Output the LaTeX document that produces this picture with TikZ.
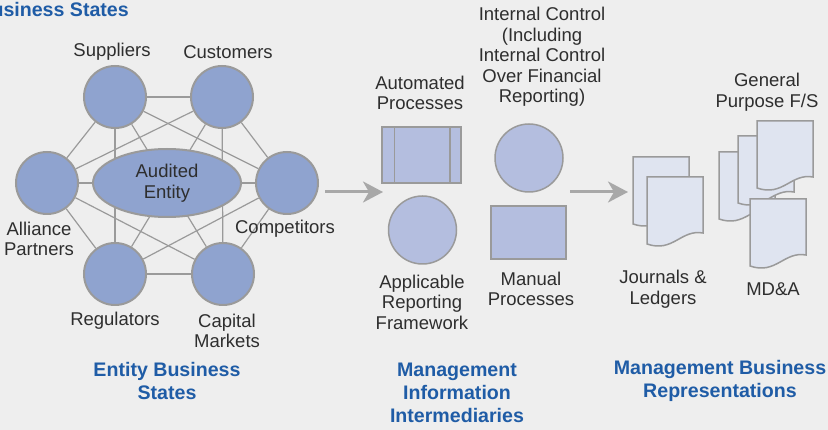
\documentclass[tikz,border=0pt]{standalone}
\usepackage{fontspec}
\setmainfont{Liberation Sans}
\usetikzlibrary{shapes.geometric,arrows.meta}

\definecolor{paneback}{HTML}{EEEEEE}
\definecolor{netblue}{HTML}{8FA3CF}
\definecolor{midblue}{HTML}{B4BEDF}
\definecolor{paperblue}{HTML}{DFE4F0}
\definecolor{titleblue}{HTML}{1F5CA6}
\definecolor{ink}{HTML}{2E2E2E}
\definecolor{rimgray}{HTML}{9A9A9A}
\definecolor{flowgray}{HTML}{A8A8A8}

\begin{document}
\begin{tikzpicture} [x=1pt,y=-1pt,
			party/.style={circle,draw=rimgray,line width=2pt,fill=netblue,minimum size=62pt,inner sep=0pt},
			entity/.style={ellipse,draw=rimgray,line width=2pt,fill=netblue,minimum width=148pt,minimum height=68pt,
				align=center,text=ink,font=\fontsize{18.5}{21}\selectfont},
			process/.style={rectangle,draw=rimgray,line width=1.5pt,fill=midblue,inner sep=0pt},
			notion/.style={circle,draw=rimgray,line width=1.5pt,fill=midblue,minimum size=68pt,inner sep=0pt},
			paper/.style={draw=rimgray,line width=1.5pt,fill=paperblue},
			link/.style={draw=rimgray,line width=1.2pt},
			flow/.style={draw=flowgray,line width=3pt,-{Stealth[length=20pt,width=21pt,inset=6pt]}},
			caption/.style={align=center,text=ink,inner sep=0pt,font=\fontsize{18.5}{20.5}\selectfont},
			heading/.style={align=center,text=titleblue,inner sep=0pt,font=\fontsize{19.6}{23}\selectfont\bfseries},
			pics/doc/.style={code={
				\path[paper] (0,0) -- (56,0) -- (56,56) .. controls (34,52) and (26,76) .. (0,67) -- cycle;}}
			]

		\useasboundingbox (0,0) rectangle (828,430);
		\fill[paneback] (0,0) rectangle (828,430);
		\clip (0,0) rectangle (828,430);

		% entity business states
		\node [heading, anchor=east] (top) at (129,9) {Business States};

		\node [party] (sup) at (115,97) {};
		\node [party] (cus) at (222,97) {};
		\node [party] (cmp) at (287,183) {};
		\node [party] (cap) at (223,274) {};
		\node [party] (reg) at (115,274) {};
		\node [party] (all) at (47,183) {};

		\foreach \a [count=\i] in {sup,cus,cmp,cap,reg,all}
			\foreach \b [count=\j] in {sup,cus,cmp,cap,reg,all}
				{\ifnum\i<\j \draw[link] (\a) -- (\b); \fi}

		\node [entity] (aud) at (167,183) {Audited\\Entity};

		\node [caption] (supl) at (112,52) {Suppliers};
		\node [caption] (cusl) at (228,52) {Customers};
		\node [caption] (alll) at (39,239) {Alliance\\Partners};
		\node [caption] (cmpl) at (285,229) {Competitors};
		\node [caption] (regl) at (115,321) {Regulators};
		\node [caption] (capl) at (227,331) {Capital\\Markets};
		\node [heading] (ebs) at (167,381) {Entity Business\\States};

		% management information intermediaries
		\node [process, minimum width=79pt, minimum height=56pt] (auto) at (421.5,155) {};
		\draw [line width=1.5pt, rimgray] ([xshift=13pt]auto.north west) -- ([xshift=13pt]auto.south west);
		\draw [line width=1.5pt, rimgray] ([xshift=-12pt]auto.north east) -- ([xshift=-12pt]auto.south east);
		\node [notion] (arf) at (422.5,230) {};
		\node [notion] (icr) at (529,158) {};
		\node [process, minimum width=75pt, minimum height=53pt] (man) at (528.5,232.5) {};

		\node [caption] (autol) at (420,93) {Automated\\Processes};
		\node [caption] (arfl) at (422,302) {Applicable\\Reporting\\Framework};
		\node [caption] (icrl) at (542,57) {Internal Control\\(Including\\Internal Control\\Over Financial\\Reporting)};
		\node [caption] (manl) at (531,289) {Manual\\Processes};
		\node [heading] (mii) at (457,393) {Management\\Information\\Intermediaries};

		% management business representations
		\pic (jl1) at (633,157) {doc};
		\pic (jl2) at (647,177) {doc};
		\pic (fs1) at (719,152) {doc};
		\pic (fs2) at (738,136) {doc};
		\pic (fs3) at (757,121) {doc};
		\pic (mda) at (750,199) {doc};

		\node [caption] (jll) at (663,289) {Journals \&\\Ledgers};
		\node [caption] (fsl) at (767,92) {General\\Purpose F/S};
		\node [caption] (mdal) at (773,289) {MD\&A};
		\node [heading] (mbr) at (720,381) {Management Business\\Representations};

		% arrows between the three groups
		\coordinate (flow1 start) at (325,192);
		\coordinate (flow1 end) at (383,192);
		\coordinate (flow2 start) at (570,192);
		\coordinate (flow2 end) at (628,192);
		\draw [flow] (flow1 start) -- (flow1 end);
		\draw [flow] (flow2 start) -- (flow2 end);

		\end{tikzpicture}
\end{document}
